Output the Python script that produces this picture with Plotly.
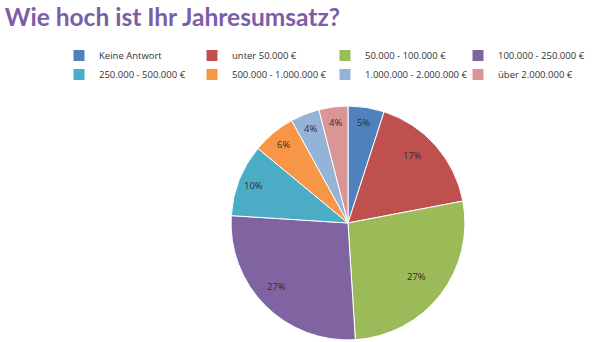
import math
import plotly.graph_objects as go

categories = ["Keine Antwort", "unter 50.000 €", "50.000 - 100.000 €", "100.000 - 250.000 €",
              "250.000 - 500.000 €", "500.000 - 1.000.000 €", "1.000.000 - 2.000.000 €", "über 2.000.000 €"]
values = [5, 17, 27, 27, 10, 6, 4, 4]
colors = ["#4F81BD", "#C0504D", "#9BBB59", "#8064A2", "#4BACC6", "#F79646", "#95B3D7", "#D99694"]
labels_txt = [f"{v}%" for v in values]

W, H = 600, 342
dom_x = [0.385, 0.775]
dom_y = [0.006, 0.690]

fig = go.Figure(go.Pie(
    labels=categories, values=values, textinfo="none",
    sort=False, direction="clockwise", rotation=0,
    marker=dict(colors=colors, line=dict(color="white", width=1)),
    domain=dict(x=dom_x, y=dom_y),
    hoverinfo="skip",
))

# slice labels placed at the slice mid-angle, computed from the values
cx = (dom_x[0] + dom_x[1]) / 2
cy = (dom_y[0] + dom_y[1]) / 2
r_px = min((dom_x[1] - dom_x[0]) * W, (dom_y[1] - dom_y[0]) * H) / 2
total = sum(values)
cum = 0
annotations = []
for v, t in zip(values, labels_txt):
    mid = (cum + v / 2) / total * 2 * math.pi
    cum += v
    rr = 0.87 * r_px
    annotations.append(dict(
        x=cx + rr * math.sin(mid) / W, y=cy + rr * math.cos(mid) / H,
        xref="paper", yref="paper", text=t, showarrow=False,
        font=dict(family="Open Sans", size=9.5, color="#2e2e2e"),
    ))

fig.update_layout(
    width=W, height=H, margin=dict(l=0, r=0, t=0, b=0),
    paper_bgcolor="white", plot_bgcolor="white",
    title=dict(text="<b>Wie hoch ist Ihr Jahresumsatz?</b>", x=0.008, xanchor="left",
               y=1 - 17 / H, yanchor="middle",
               font=dict(family="Lato", size=24.5, color="#7B5EA8")),
    showlegend=True,
    legend=dict(orientation="h", x=59 / W, y=1 - 41 / H, xanchor="left", yanchor="top",
                entrywidth=88, entrywidthmode="pixels", itemwidth=30,
                font=dict(family="Open Sans", size=9.5, color="#333"),
                tracegroupgap=0, itemclick=False, traceorder="normal"),
    annotations=annotations,
)

fig.write_html("out.html")
